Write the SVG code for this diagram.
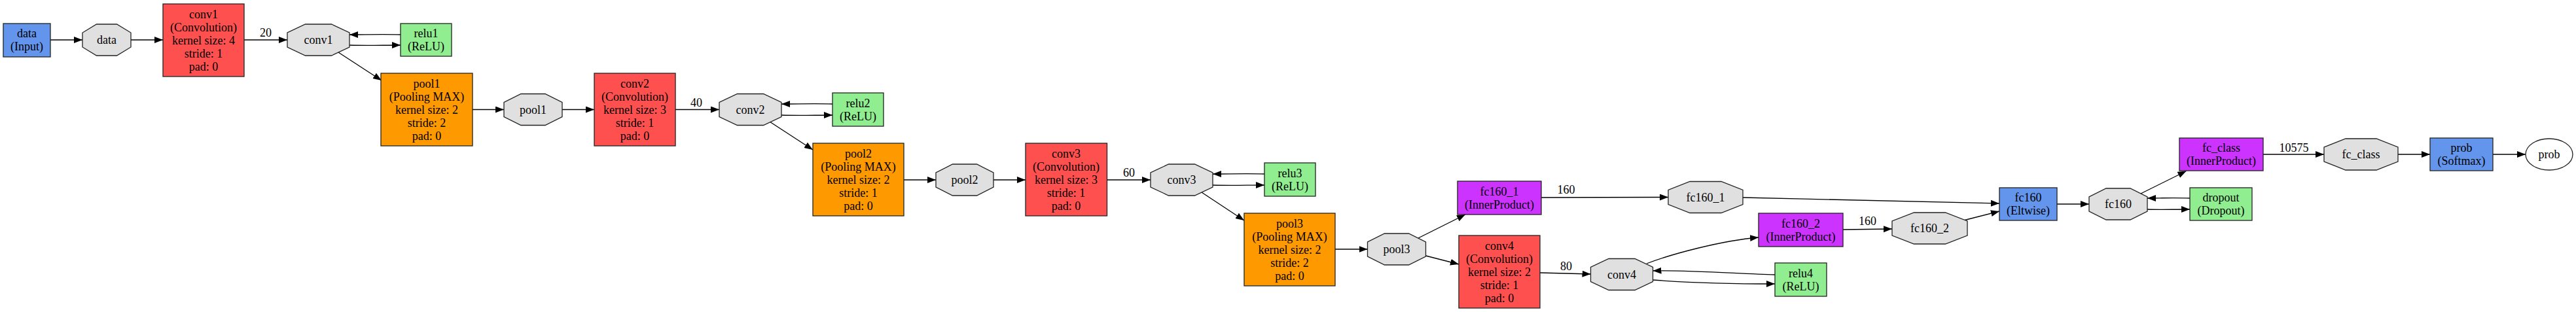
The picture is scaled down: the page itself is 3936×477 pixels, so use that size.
<svg xmlns="http://www.w3.org/2000/svg" width="3936" height="477" viewBox="0 0 3936 477">
<defs>
<marker id="ah" markerUnits="userSpaceOnUse" markerWidth="14" markerHeight="11" refX="13" refY="5" orient="auto">
<path d="M0,0 L13,5 L0,10 z" fill="#000"/>
</marker>
<style>
.e path{fill:none;stroke:#000;stroke-width:1.3;marker-end:url(#ah)}
.n rect,.n polygon,.n ellipse{stroke:#222;stroke-width:1.3}
text{font-family:"Liberation Serif","Times New Roman",serif;font-size:18px;text-anchor:middle;fill:#000}
.conv{fill:#FF5050}.pool{fill:#FF9900}.relu{fill:#90EE90}.ip{fill:#CC33FF}.blue{fill:#6495ED}.blob{fill:#E0E0E0}.white{fill:#fff}
</style>
</defs>
<rect width="3936" height="477" fill="#fff"/>
<g id="connectors" class="e">
<path d="M77,61 L126,61"/>
<path d="M200,61 L249,61"/>
<path d="M373,61 L439,61"/>
<path d="M534,69 C560,70 585,69 612,69"/>
<path d="M612,53 C585,52 560,53 534,53"/>
<path d="M517,80 L583,123"/>
<path d="M722,167.5 L770,167.5"/>
<path d="M859,167.5 L908,167.5"/>
<path d="M1032,167.5 L1099,167.5"/>
<path d="M1194,176 C1220,177 1245,176 1272,176"/>
<path d="M1272,159 C1245,158 1220,159 1194,159"/>
<path d="M1176,186 L1242,229"/>
<path d="M1381,275 L1430,275"/>
<path d="M1518,275 L1567,275"/>
<path d="M1691.5,275 L1758,275"/>
<path d="M1853,283 C1880,284 1905,283 1932,283"/>
<path d="M1932,266 C1905,265 1880,266 1853,266"/>
<path d="M1836,294 L1901,337"/>
<path d="M2040,381 L2089.5,381"/>
<path d="M2167,364 L2239,328"/>
<path d="M2178.5,391 L2229,404"/>
<path d="M2355,302 L2549,301.5"/>
<path d="M2353,417 L2430.5,419"/>
<path d="M2516,403 C2555,388 2630,368 2687,363"/>
<path d="M2712,420 C2650,418 2580,413 2525.5,414"/>
<path d="M2525,428 C2580,432 2650,434 2712,434"/>
<path d="M2816,351 L2891,350"/>
<path d="M2663,302 C2800,305 2950,309 3055,311"/>
<path d="M3002,336.5 L3055,323"/>
<path d="M3143,312 L3192,312"/>
<path d="M3271,296 L3340.5,261.5"/>
<path d="M3346,303 C3320,302 3300,303 3281,303"/>
<path d="M3281,320 C3300,321 3320,320 3346,320"/>
<path d="M3458,236 L3551,236"/>
<path d="M3664,236 L3713,236"/>
<path d="M3809,236 L3859,236"/>
<text x="406" y="56">20</text>
<text x="1064" y="163">40</text>
<text x="1725" y="270">60</text>
<text x="2393" y="296">160</text>
<text x="2393" y="412.5">80</text>
<text x="2853.5" y="344">160</text>
<text x="3505" y="232">10575</text>
</g>
<g id="data_input" class="n"><rect class="blue" x="5" y="36" width="72" height="51"/><text x="41" y="57">data</text><text x="41" y="77">(Input)</text></g>
<g id="blob_data" class="n"><polygon class="blob" points="147.5,37 178.5,37 200,50 200,72 178.5,85 147.5,85 126,72 126,50"/><text x="163" y="67">data</text></g>
<g id="conv1" class="n"><rect class="conv" x="249" y="6" width="124" height="111"/><text x="311" y="27.5">conv1</text><text x="311" y="47.5">(Convolution)</text><text x="311" y="67.5">kernel size: 4</text><text x="311" y="87.5">stride: 1</text><text x="311" y="107.5">pad: 0</text></g>
<g id="blob_conv1" class="n"><polygon class="blob" points="466.5,37 506.5,37 534,50 534,72 506.5,85 466.5,85 439,72 439,50"/><text x="486.5" y="67">conv1</text></g>
<g id="relu1" class="n"><rect class="relu" x="612" y="36" width="78" height="50"/><text x="651" y="57">relu1</text><text x="651" y="77">(ReLU)</text></g>
<g id="pool1" class="n"><rect class="pool" x="582" y="112" width="140" height="111"/><text x="652" y="133.5">pool1</text><text x="652" y="153.5">(Pooling MAX)</text><text x="652" y="173.5">kernel size: 2</text><text x="652" y="193.5">stride: 2</text><text x="652" y="213.5">pad: 0</text></g>
<g id="blob_pool1" class="n"><polygon class="blob" points="796,143.5 833,143.5 859,156.5 859,178.5 833,191.5 796,191.5 770,178.5 770,156.5"/><text x="814.5" y="173.5">pool1</text></g>
<g id="conv2" class="n"><rect class="conv" x="908" y="112" width="124" height="111"/><text x="970" y="133.5">conv2</text><text x="970" y="153.5">(Convolution)</text><text x="970" y="173.5">kernel size: 3</text><text x="970" y="193.5">stride: 1</text><text x="970" y="213.5">pad: 0</text></g>
<g id="blob_conv2" class="n"><polygon class="blob" points="1126.5,143.5 1166.5,143.5 1194,156.5 1194,178.5 1166.5,191.5 1126.5,191.5 1099,178.5 1099,156.5"/><text x="1146.5" y="173.5">conv2</text></g>
<g id="relu2" class="n"><rect class="relu" x="1272" y="142" width="78" height="51"/><text x="1311" y="163.5">relu2</text><text x="1311" y="183.5">(ReLU)</text></g>
<g id="pool2" class="n"><rect class="pool" x="1242" y="219" width="139" height="111"/><text x="1311.5" y="240.5">pool2</text><text x="1311.5" y="260.5">(Pooling MAX)</text><text x="1311.5" y="280.5">kernel size: 2</text><text x="1311.5" y="300.5">stride: 1</text><text x="1311.5" y="320.5">pad: 0</text></g>
<g id="blob_pool2" class="n"><polygon class="blob" points="1455.5,251 1492.5,251 1518,264 1518,286 1492.5,299 1455.5,299 1430,286 1430,264"/><text x="1474" y="281">pool2</text></g>
<g id="conv3" class="n"><rect class="conv" x="1567" y="219" width="124.5" height="111"/><text x="1629" y="240.5">conv3</text><text x="1629" y="260.5">(Convolution)</text><text x="1629" y="280.5">kernel size: 3</text><text x="1629" y="300.5">stride: 1</text><text x="1629" y="320.5">pad: 0</text></g>
<g id="blob_conv3" class="n"><polygon class="blob" points="1785.5,251 1825.5,251 1853,264 1853,286 1825.5,299 1785.5,299 1758,286 1758,264"/><text x="1805.5" y="281">conv3</text></g>
<g id="relu3" class="n"><rect class="relu" x="1932" y="249" width="78" height="51"/><text x="1971" y="270.5">relu3</text><text x="1971" y="290.5">(ReLU)</text></g>
<g id="pool3" class="n"><rect class="pool" x="1901" y="326" width="139" height="111"/><text x="1970.5" y="347.5">pool3</text><text x="1970.5" y="367.5">(Pooling MAX)</text><text x="1970.5" y="387.5">kernel size: 2</text><text x="1970.5" y="407.5">stride: 2</text><text x="1970.5" y="427.5">pad: 0</text></g>
<g id="blob_pool3" class="n"><polygon class="blob" points="2115.5,357 2152.5,357 2178.5,370 2178.5,392 2152.5,405 2115.5,405 2089.5,392 2089.5,370"/><text x="2134" y="387">pool3</text></g>
<g id="fc160_1" class="n"><rect class="ip" x="2227" y="277" width="128" height="51"/><text x="2291" y="298.5">fc160_1</text><text x="2291" y="318.5">(InnerProduct)</text></g>
<g id="blob_fc160_1" class="n"><polygon class="blob" points="2582,277.5 2630,277.5 2663,290.5 2663,312.5 2630,325.5 2582,325.5 2549,312.5 2549,290.5"/><text x="2606" y="307.5">fc160_1</text></g>
<g id="conv4" class="n"><rect class="conv" x="2229" y="360" width="124" height="111"/><text x="2291" y="381.5">conv4</text><text x="2291" y="401.5">(Convolution)</text><text x="2291" y="421.5">kernel size: 2</text><text x="2291" y="441.5">stride: 1</text><text x="2291" y="461.5">pad: 0</text></g>
<g id="blob_conv4" class="n"><polygon class="blob" points="2458,395.5 2498,395.5 2525.5,408.5 2525.5,430.5 2498,443.5 2458,443.5 2430.5,430.5 2430.5,408.5"/><text x="2478" y="425.5">conv4</text></g>
<g id="fc160_2" class="n"><rect class="ip" x="2687" y="326" width="129" height="51"/><text x="2751.5" y="347.5">fc160_2</text><text x="2751.5" y="367.5">(InnerProduct)</text></g>
<g id="relu4" class="n"><rect class="relu" x="2712" y="402" width="79" height="51"/><text x="2751.5" y="423.5">relu4</text><text x="2751.5" y="443.5">(ReLU)</text></g>
<g id="blob_fc160_2" class="n"><polygon class="blob" points="2924.5,325 2972.5,325 3006,338 3006,360 2972.5,373 2924.5,373 2891,360 2891,338"/><text x="2948.5" y="355">fc160_2</text></g>
<g id="fc160" class="n"><rect class="blue" x="3055" y="287" width="88" height="50"/><text x="3099" y="308">fc160</text><text x="3099" y="328">(Eltwise)</text></g>
<g id="blob_fc160" class="n"><polygon class="blob" points="3218,288 3255,288 3281,301 3281,323 3255,336 3218,336 3192,323 3192,301"/><text x="3236.5" y="318">fc160</text></g>
<g id="dropout" class="n"><rect class="relu" x="3346" y="287" width="95" height="50"/><text x="3393.5" y="308">dropout</text><text x="3393.5" y="328">(Dropout)</text></g>
<g id="fc_class" class="n"><rect class="ip" x="3330" y="211" width="128" height="50"/><text x="3394" y="232">fc_class</text><text x="3394" y="252">(InnerProduct)</text></g>
<g id="blob_fc_class" class="n"><polygon class="blob" points="3584,212 3631,212 3664,225 3664,247 3631,260 3584,260 3551,247 3551,225"/><text x="3607.5" y="242">fc_class</text></g>
<g id="prob" class="n"><rect class="blue" x="3713" y="211" width="96" height="50"/><text x="3761" y="232">prob</text><text x="3761" y="252">(Softmax)</text></g>
<g id="blob_prob" class="n"><ellipse class="white" cx="3895" cy="236" rx="36" ry="24"/><text x="3895" y="242">prob</text></g>
</svg>
